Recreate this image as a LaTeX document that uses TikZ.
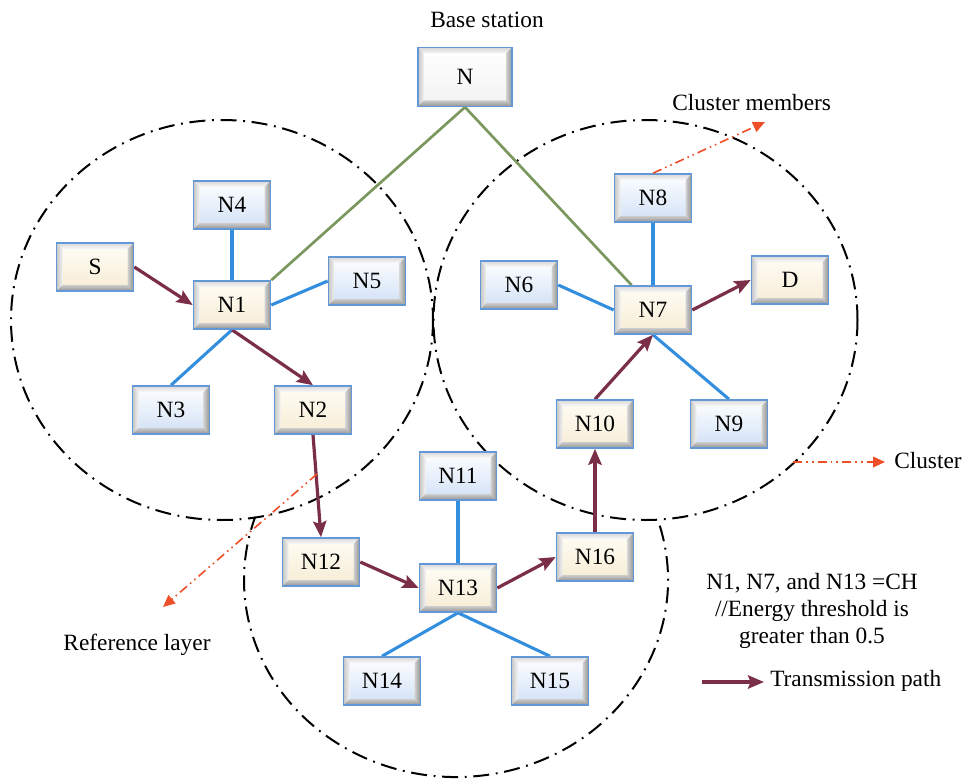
\documentclass[tikz,border=0pt]{standalone}
\usepackage{fontspec}
\setmainfont{Liberation Serif}
\usetikzlibrary{arrows.meta,backgrounds}
\definecolor{pathred}{RGB}{122,46,72}
\definecolor{linkblue}{RGB}{52,142,222}
\definecolor{chgreen}{RGB}{122,152,94}
\definecolor{notered}{RGB}{238,78,40}
\definecolor{boxblue}{RGB}{98,152,214}
\definecolor{creamtop}{RGB}{255,253,246}
\definecolor{creambot}{RGB}{246,236,212}
\definecolor{bluebot}{RGB}{208,224,246}
\def\bevw{4.5pt}
\tikzset{
  bevel/.style={path picture={
    \path (path picture bounding box.north east) coordinate (pNE)
          (path picture bounding box.north west) coordinate (pNW)
          (path picture bounding box.south east) coordinate (pSE)
          (path picture bounding box.south west) coordinate (pSW);
    \shade[top color=gray!30, bottom color=gray!5]
      (pNW) -- (pNE) -- ([shift={(-\bevw,-\bevw)}]pNE) -- ([shift={(\bevw,-\bevw)}]pNW) -- cycle;
    \shade[left color=gray!45, right color=gray!10]
      (pNW) -- ([shift={(\bevw,-\bevw)}]pNW) -- ([shift={(\bevw,\bevw)}]pSW) -- (pSW) -- cycle;
    \shade[left color=gray!35, right color=gray!85]
      (pNE) -- (pSE) -- ([shift={(-\bevw,\bevw)}]pSE) -- ([shift={(-\bevw,-\bevw)}]pNE) -- cycle;
    \shade[top color=gray!40, bottom color=gray!85]
      (pSW) -- ([shift={(\bevw,\bevw)}]pSW) -- ([shift={(-\bevw,\bevw)}]pSE) -- (pSE) -- cycle;
  }},
  nbox/.style={draw=boxblue, line width=1.2pt, minimum width=57.75pt, minimum height=36pt,
    inner sep=0pt, bevel},
  cbox/.style={nbox, top color=creamtop, bottom color=creambot},
  bbox/.style={nbox, top color=white, bottom color=bluebot},
  circ/.style={black, line width=1.5pt, dash pattern=on 12pt off 5pt on 1.4pt off 5pt},
  tpath/.style={pathred, line width=2.4pt, -{Stealth[length=12pt,width=10pt,inset=2pt]}},
  blink/.style={linkblue, line width=2.3pt},
  glink/.style={chgreen, line width=2pt},
  note/.style={notered, line width=1.2pt, dash pattern=on 7pt off 3pt on 1.2pt off 3pt on 1.2pt off 3pt,
    -{Triangle[length=9pt,width=8pt]}},
  lbl/.style={inner sep=0pt}
}
\begin{document}
\begin{tikzpicture}[x=0.75pt,y=-0.75pt,font=\rmfamily\fontsize{17.5}{20}\selectfont]
\useasboundingbox (0,0) rectangle (965,779);

\begin{scope}[on background layer]
  \fill[white] (0,0) rectangle (965,779);
  \draw[circ] (222,320) ellipse [x radius=211, y radius=200];
  \draw[circ] (645.5,320) ellipse [x radius=212, y radius=200];
  \draw[circ] (456,580) ++(-16:212 and 197) arc[start angle=-16, end angle=198.7, x radius=212, y radius=197];
\end{scope}

% nodes
\node[nbox, minimum width=70.5pt, minimum height=44pt, top color=white, bottom color=gray!10] (N) at (465,77) {N};
\node[bbox] (N4) at (232,205) {N4};
\node[cbox] (S) at (95,267) {S};
\node[cbox] (N1) at (232,305) {N1};
\node[bbox] (N5) at (367,281) {N5};
\node[bbox] (N3) at (171,410) {N3};
\node[cbox] (N2) at (313,410) {N2};
\node[bbox] (N8) at (653,198) {N8};
\node[bbox] (N6) at (519,285) {N6};
\node[cbox] (N7) at (653,310) {N7};
\node[cbox] (D) at (790,280) {D};
\node[cbox] (N10) at (595,424) {N10};
\node[bbox] (N9) at (729,424) {N9};
\node[bbox] (N11) at (458,476) {N11};
\node[cbox] (N12) at (321,562) {N12};
\node[cbox] (N13) at (458,588) {N13};
\node[cbox] (N16) at (595,557) {N16};
\node[bbox] (N14) at (382,681) {N14};
\node[bbox] (N15) at (550,681) {N15};

% labels
\node[lbl] (bs) at (487,20) {Base station};
\node[lbl, anchor=west] (cmt) at (672,103) {Cluster members};
\node[lbl, anchor=west] (clt) at (894,461) {Cluster};
\node[lbl] (rlt) at (137,645) {Reference layer};
\node[lbl, align=center] (cht) at (812,611) {N1, N7, and N13 =CH\\//Energy threshold is\\greater than 0.5};
\node[lbl, anchor=west] (tpt) at (770,681) {Transmission path};

\coordinate (cmend) at (765,122);
\coordinate (clstart) at (793,462);
\coordinate (clend) at (885,462);
\coordinate (rlstart) at (317,474);
\coordinate (rlend) at (163,607);
\coordinate (lgstart) at (702,682);
\coordinate (lgend) at (764,682);

\begin{scope}[on background layer]
  \draw[glink] (N.south) -- (N1.north east);
  \draw[glink] (N.south) -- ([xshift=13.5pt]N7.north west);
  \draw[blink] (N4.south) -- (N1.north);
  \draw[blink] (N5.west) -- (N1.east);
  \draw[blink] (N1.south) -- (N3.north);
  \draw[blink] (N8.south) -- (N7.north);
  \draw[blink] (N6.east) -- (N7.west);
  \draw[blink] (N7.south) -- (N9.north);
  \draw[blink] (N11.south) -- (N13.north);
  \draw[blink] (N13.south) -- (N14.north);
  \draw[blink] (N13.south) -- (N15.north);
  \draw[tpath] (S.east) -- (N1.west);
  \draw[tpath] (N1.south) -- (N2.north);
  \draw[tpath] (N2.south) -- (N12.north);
  \draw[tpath] (N12.east) -- (N13.west);
  \draw[tpath] (N13.east) -- (N16.west);
  \draw[tpath] (N16.north) -- (N10.south);
  \draw[tpath] (N10.north) -- (N7.south);
  \draw[tpath] (N7.east) -- (D.west);
\end{scope}

\draw[note] (N8.north) -- (cmend);
\draw[note] (clstart) -- (clend);
\draw[note] (rlstart) -- (rlend);
\draw[tpath] (lgstart) -- (lgend);
\end{tikzpicture}
\end{document}
